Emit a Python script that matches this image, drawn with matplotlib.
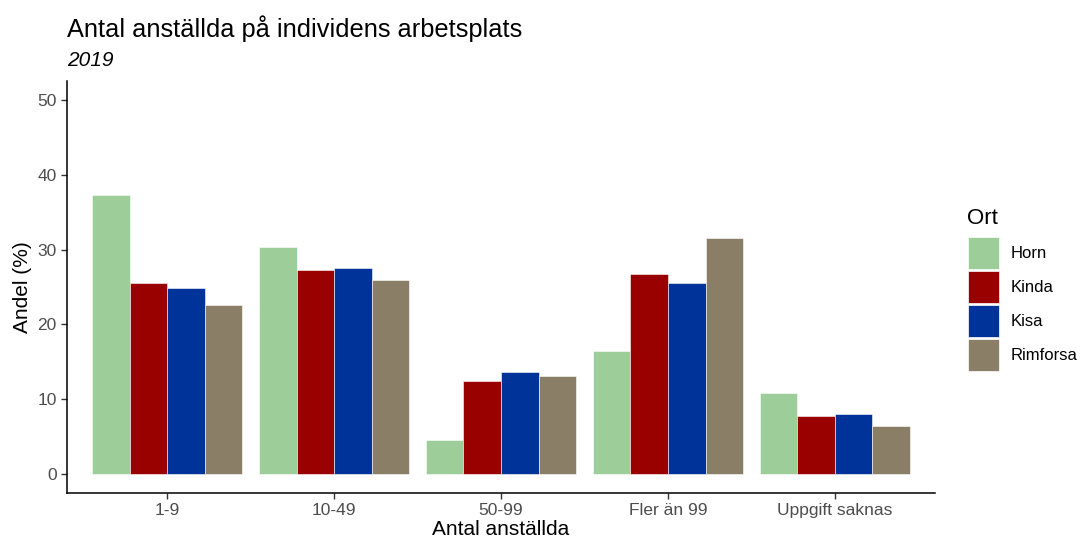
import numpy as np
import matplotlib.pyplot as plt
from matplotlib.patches import Patch

plt.rcParams['font.family'] = ['Liberation Sans', 'DejaVu Sans']

# ===== data =====
kategorier = ["1-9", "10-49", "50-99", "Fler än 99", "Uppgift saknas"]
orter = ["Horn", "Kinda", "Kisa", "Rimforsa"]
horn = [37.3, 30.4, 4.6, 16.5, 10.8]
kinda = [25.5, 27.3, 12.4, 26.7, 7.8]
kisa = [24.9, 27.5, 13.6, 25.6, 8.1]
rimforsa = [22.6, 26.0, 13.1, 31.5, 6.4]
farger = ["#9dce9a", "#990000", "#003399", "#8b7e66"]

serier = [horn, kinda, kisa, rimforsa]

# ===== plot =====
fig = plt.figure(figsize=(10.81, 5.41), dpi=100)
ax = fig.add_axes([0.062, 0.089, 0.803, 0.761])

x = np.arange(len(kategorier))
w = 0.9 / len(orter)
for i, (namn, vals) in enumerate(zip(orter, serier)):
    ax.bar(x - 0.45 + w / 2 + i * w, vals, width=w, color=farger[i],
           edgecolor="white", linewidth=0.4, label=namn)

ax.set_xlim(-0.6, len(kategorier) - 0.4)
ax.set_ylim(-2.5, 52.5)
ax.set_xticks(x)
ax.set_xticklabels(kategorier)
ax.set_yticks([0, 10, 20, 30, 40, 50])

for s in ["top", "right"]:
    ax.spines[s].set_visible(False)
for s in ["left", "bottom"]:
    ax.spines[s].set_linewidth(1.1)
    ax.spines[s].set_color("black")
ax.tick_params(axis="both", colors="#333333", labelcolor="#4d4d4d",
               labelsize=12.5, length=4, width=1)

ax.set_xlabel("Antal anställda", fontsize=15, labelpad=1)
ax.set_ylabel("Andel (%)", fontsize=15, labelpad=4)

fig.text(0.062, 0.947, "Antal anställda på individens arbetsplats", fontsize=18.3, va="center")
fig.text(0.062, 0.888, "2019", fontsize=15, style="italic", va="center")

# legend (titel separat)
fig.text(0.895, 0.597, "Ort", fontsize=16, va="center")
handles = [Patch(facecolor=c, edgecolor="white", linewidth=0.5) for c in farger]
leg = fig.legend(handles, orter, loc="upper left",
                 bbox_to_anchor=(0.889, 0.574), frameon=False, fontsize=12,
                 handlelength=1.9, handleheight=2.6,
                 labelspacing=0.1, handletextpad=0.7, borderaxespad=0)

plt.savefig("out.png", dpi=100)
